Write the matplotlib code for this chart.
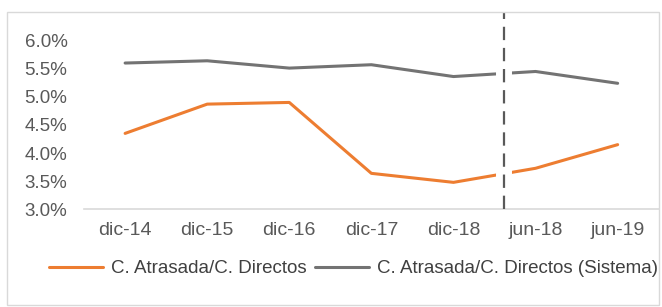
import matplotlib
matplotlib.use("Agg")
import matplotlib.pyplot as plt
from matplotlib.patches import Rectangle
from matplotlib.ticker import FuncFormatter

periodos = ["dic-14", "dic-15", "dic-16", "dic-17", "dic-18", "jun-18", "jun-19"]
atrasada = [4.35, 4.87, 4.90, 3.64, 3.48, 3.73, 4.15]
atrasada_sistema = [5.60, 5.64, 5.51, 5.57, 5.36, 5.45, 5.24]
corte = 4.61  # separación diciembre / junio

plt.rcParams["font.family"] = ["Liberation Sans", "DejaVu Sans"]
plt.rcParams["font.size"] = 13.5

fig = plt.figure(figsize=(6.62, 3.07), dpi=100)
ax = fig.add_axes([0.127, 0.318, 0.868, 0.55])

x = list(range(len(periodos)))
ax.plot(x, atrasada, color="#ED7D31", lw=2.2, solid_capstyle="round",
        label="C. Atrasada/C. Directos")
ax.plot(x, atrasada_sistema, color="#737373", lw=2.2, solid_capstyle="round",
        label="C. Atrasada/C. Directos (Sistema)")

# hueco blanco alrededor de la linea discontinua
ax.axvline(corte, color="white", lw=11.5, zorder=2.2)
ax.plot([corte, corte], [3.0, 6.49], color="#595959", lw=1.6,
        dashes=(6, 3.5), clip_on=False, zorder=3)

ax.set_xlim(-0.5, 6.5)
ax.set_ylim(3.0, 6.0)
ax.set_yticks([3.0, 3.5, 4.0, 4.5, 5.0, 5.5, 6.0])
ax.yaxis.set_major_formatter(FuncFormatter(lambda v, p: f"{v:.1f}%"))
ax.set_xticks(x)
ax.set_xticklabels(periodos)
ax.tick_params(axis="both", length=0, colors="#595959", labelsize=13.5)
ax.tick_params(axis="x", labelsize=14)
ax.tick_params(axis="y", pad=12)
ax.tick_params(axis="x", pad=9)
for s in ["top", "right", "left"]:
    ax.spines[s].set_visible(False)
ax.spines["bottom"].set_color("#D9D9D9")
ax.spines["bottom"].set_linewidth(1.2)

leg = fig.legend(loc="center", bbox_to_anchor=(0.534, 0.124), ncol=2,
                 frameon=False, handlelength=2.9, handletextpad=0.4,
                 columnspacing=0.45, fontsize=13.5)
for t in leg.get_texts():
    t.set_color("#404040")

# marco del grafico
fig.patches.append(Rectangle((0.011, 0.006), 0.985, 0.955, transform=fig.transFigure,
                             fill=False, edgecolor="#D9D9D9", lw=1.0))

fig.savefig("out.png", dpi=100)
